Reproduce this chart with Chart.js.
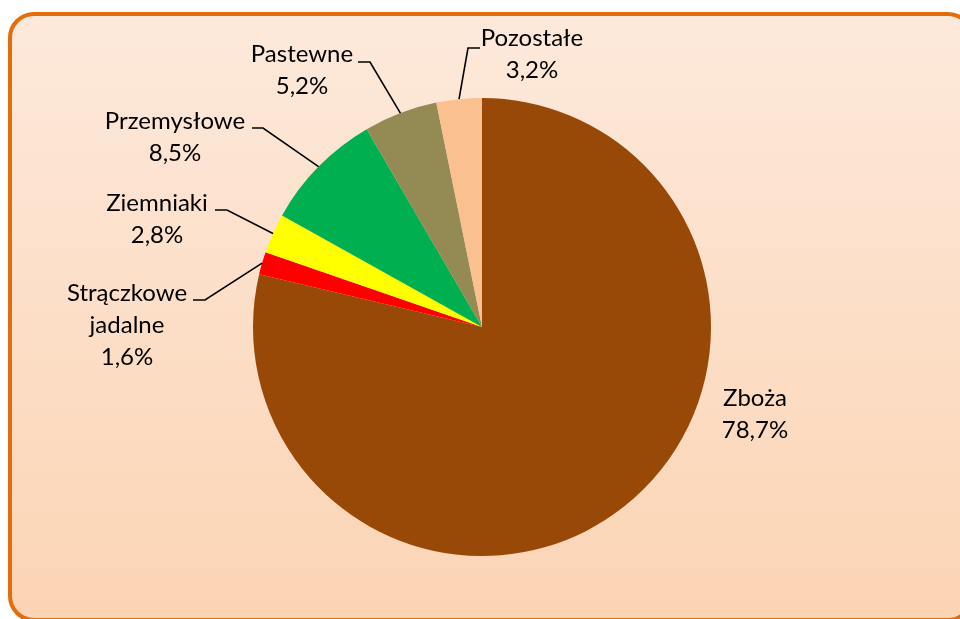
<!DOCTYPE html>
<html lang="pl">
  <head>
    <meta charset="utf-8">
    <title>Struktura zasiewów</title>
    <script src="https://cdn.jsdelivr.net/npm/chart.js@4.4.1/dist/chart.umd.min.js"></script>
    <style>
      body { margin: 0; background: #fff; }
      #wrap { width: 960px; height: 619px; position: relative; }
    </style>
  </head>
  <body>
    <div id="wrap"><canvas id="pie"></canvas></div>

    <script>
    // data
    var categories = ["Zboża", "Strączkowe\njadalne", "Ziemniaki", "Przemysłowe", "Pastewne", "Pozostałe"];
    var shares = [78.7, 1.6, 2.8, 8.5, 5.2, 3.2];
    var colors = ["#984807", "#ff0000", "#ffff00", "#00b050", "#948a54", "#fac090"];

    // label placement: text centre x, first baseline y, leader tick [x1, x2, y] (null = no leader)
    var labelPos = [
      { cx: 755, by: 406, tick: null },
      { cx: 127, by: 301, tick: [193, 205, 300] },
      { cx: 157, by: 211, tick: [215, 227, 210] },
      { cx: 175, by: 129, tick: [252, 263, 128] },
      { cx: 302, by: 62,  tick: [358, 370, 62] },
      { cx: 532, by: 46,  tick: [480, 468, 48] }
    ];

    var FONT = '24px Lato, "Open Sans", sans-serif';
    var LINE = 32;

    // rounded frame with gradient fill (runs past the right and bottom edges)
    var framePlugin = {
      id: 'frame',
      beforeDraw: function(chart) {
        var ctx = chart.ctx;
        var x = 10, y = 14, w = 962, h = 606, r = 24;
        ctx.save();
        var g = ctx.createLinearGradient(0, y, 0, y + h);
        g.addColorStop(0, '#fde9db');
        g.addColorStop(1, '#fbd4b4');
        ctx.beginPath();
        ctx.moveTo(x + r, y);
        ctx.lineTo(x + w - r, y);
        ctx.arcTo(x + w, y, x + w, y + r, r);
        ctx.lineTo(x + w, y + h - r);
        ctx.arcTo(x + w, y + h, x + w - r, y + h, r);
        ctx.lineTo(x + r, y + h);
        ctx.arcTo(x, y + h, x, y + h - r, r);
        ctx.lineTo(x, y + r);
        ctx.arcTo(x, y, x + r, y, r);
        ctx.closePath();
        ctx.fillStyle = g;
        ctx.fill();
        ctx.lineWidth = 4;
        ctx.strokeStyle = '#e46c0a';
        ctx.stroke();
        ctx.restore();
      }
    };

    // data labels with leader lines
    var labelPlugin = {
      id: 'pieLabels',
      afterDraw: function(chart) {
        var ctx = chart.ctx;
        var meta = chart.getDatasetMeta(0);
        ctx.save();
        ctx.font = FONT;
        ctx.fillStyle = '#000';
        ctx.textAlign = 'center';
        ctx.textBaseline = 'alphabetic';
        for (var i = 0; i < categories.length; i++) {
          var p = labelPos[i];
          var lines = categories[i].split('\n');
          lines.push(shares[i].toFixed(1).replace('.', ',') + '%');
          for (var j = 0; j < lines.length; j++) {
            ctx.fillText(lines[j], p.cx, p.by + j * LINE);
          }
          if (p.tick) {
            var arc = meta.data[i];
            var mid = (arc.startAngle + arc.endAngle) / 2;
            var ex = arc.x + Math.cos(mid) * arc.outerRadius;
            var ey = arc.y + Math.sin(mid) * arc.outerRadius;
            ctx.beginPath();
            ctx.moveTo(p.tick[0], p.tick[2]);
            ctx.lineTo(p.tick[1], p.tick[2]);
            ctx.lineTo(ex, ey);
            ctx.lineWidth = 1.6;
            ctx.strokeStyle = '#000';
            ctx.stroke();
          }
        }
        ctx.restore();
      }
    };

    new Chart(document.getElementById('pie'), {
      type: 'pie',
      data: {
        labels: categories,
        datasets: [{
          data: shares,
          backgroundColor: colors,
          borderWidth: 0
        }]
      },
      options: {
        responsive: true,
        maintainAspectRatio: false,
        animation: false,
        layout: { padding: { left: 253, right: 249, top: 98, bottom: 63 } },
        plugins: {
          legend: { display: false },
          tooltip: { enabled: false }
        }
      },
      plugins: [framePlugin, labelPlugin]
    });
    </script>
  </body>
</html>
